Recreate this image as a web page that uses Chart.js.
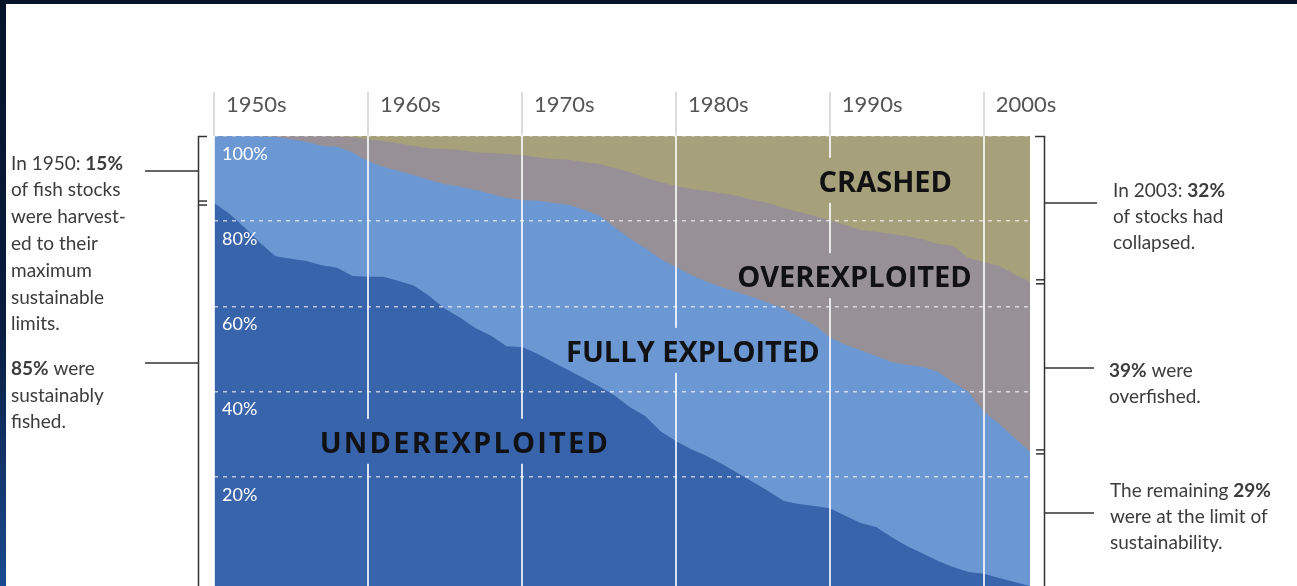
<!DOCTYPE html>
<html><head><meta charset="utf-8">
<script src="https://cdn.jsdelivr.net/npm/chart.js@4.4.1/dist/chart.umd.min.js"></script>
<style>
html,body{margin:0;padding:0;background:#fff;overflow:hidden;}
#wrap{position:relative;width:1297px;height:586px;background:#fff;}
#c{position:absolute;left:0;top:0;}
#frameTop{position:absolute;left:0;top:0;width:1297px;height:4px;background:#06142a;}
#frameLeft{position:absolute;left:0;top:0;width:6px;height:586px;background:linear-gradient(#06142a 0%,#0a1d40 55%,#1a4a90 100%);}
</style></head>
<body><div id="wrap"><canvas id="c" width="1297" height="586"></canvas><div id="frameTop"></div><div id="frameLeft"></div></div>
<script>
const years = [1950,1951,1952,1953,1954,1955,1956,1957,1958,1959,1960,1961,1962,1963,1964,1965,1966,1967,1968,1969,1970,1971,1972,1973,1974,1975,1976,1977,1978,1979,1980,1981,1982,1983,1984,1985,1986,1987,1988,1989,1990,1991,1992,1993,1994,1995,1996,1997,1998,1999,2000,2001,2002,2003];
const underexploited = [85.1,82.7,79.6,76.2,73.3,72.7,72.2,71.3,70.7,68.9, 68.7,68.7,67.8,66.7,64.4,61.6,59.6,57.3,55.6,53.3, 53.1,51.6,49.8,48.0,46.2,44.4,42.4,39.8,37.8,34.4, 32.2,30.4,28.9,27.1,25.1,23.1,21.1,18.9,18.2,17.8, 17.3,15.6,14.0,13.1,10.9,8.9,7.3,5.6,4.2,3.1, 2.7,1.8,0.9,0.0];
const fullyExploited = [14.9,17.3,20.4,23.7,26.5,26.6,26.5,26.5,26.9,27.5, 25.7,24.4,24.4,24.6,25.8,27.7,29.1,30.7,31.5,32.9, 32.7,34.0,35.3,36.7,37.4,38.0,37.4,37.5,37.3,38.3, 38.7,38.7,38.7,39.3,40.2,41.1,41.8,42.7,41.6,40.2, 38.0,38.0,38.4,38.0,38.9,40.2,41.4,42.0,41.1,40.0, 36.0,34.2,32.0,29.8];
const overexploited = [0,0,0,0.1,0.2,0.7,1.3,2.2,2.3,3.3, 4.9,5.8,6.2,6.5,7.1,7.8,8.2,8.4,9.1,9.8, 10.0,9.7,9.8,10.0,10.6,11.4,13.1,14.7,15.6,17.1, 18.0,19.1,20.2,20.9,21.4,21.6,22.2,22.4,23.3,24.2, 26.0,26.6,26.7,27.6,28.4,28.7,28.4,28.4,30.3,29.8, 33.3,35.1,36.4,37.8];
const crashed = [0,0,0,0,0,0,0,0,0.1,0.3, 0.7,1.1,1.6,2.2,2.7,2.9,3.1,3.6,3.8,4.0, 4.2,4.7,5.1,5.3,5.8,6.2,7.1,8.0,9.3,10.2, 11.1,11.8,12.2,12.7,13.3,14.2,14.9,16.0,16.9,17.8, 18.7,19.8,20.9,21.3,21.8,22.2,22.9,24.0,24.4,27.1, 28.0,28.9,30.7,32.4];
const seriesNames = ['UNDEREXPLOITED','FULLY EXPLOITED','OVEREXPLOITED','CRASHED'];
const decadeTicks = [1950,1960,1970,1980,1990,2000];
const decadeLabels = ['1950s','1960s','1970s','1980s','1990s','2000s'];
const percentTicks = [20,40,60,80,100];
const percentLabels = ['20%','40%','60%','80%','100%'];

const seriesColors = ['#3864ab','#6b98d3','#979197','#a6a07b'];
const seriesValues = [underexploited, fullyExploited, overexploited, crashed];

// label anchors in data coordinates (year, percent at baseline)
const bigLabels = [
  {series:3, year:1993.6, value:87.6, spacing:0},
  {series:2, year:1991.6, value:66.4, spacing:0},
  {series:1, year:1981.1, value:49.8, spacing:0},
  {series:0, year:1966.3, value:29.6, spacing:2.2}
];

const sideNotes = [
  {x:11, y:170, parts:[['In 1950: ',0],['15%',1]]},
  {x:11, y:196, parts:[['of fish stocks',0]]},
  {x:11, y:223, parts:[['were harvest-',0]]},
  {x:11, y:250, parts:[['ed to their',0]]},
  {x:11, y:277, parts:[['maximum',0]]},
  {x:11, y:304, parts:[['sustainable',0]]},
  {x:11, y:330, parts:[['limits.',0]]},
  {x:11, y:375, parts:[['85%',1],[' were',0]]},
  {x:11, y:402, parts:[['sustainably',0]]},
  {x:11, y:428, parts:[['fished.',0]]},
  {x:1113, y:197, parts:[['In 2003: ',0],['32%',1]]},
  {x:1113, y:223, parts:[['of stocks had',0]]},
  {x:1113, y:249, parts:[['collapsed.',0]]},
  {x:1109, y:377, parts:[['39%',1],[' were',0]]},
  {x:1109, y:403, parts:[['overfished.',0]]},
  {x:1110, y:497, parts:[['The remaining ',0],['29%',1]]},
  {x:1110, y:523, parts:[['were at the limit of',0]]},
  {x:1110, y:549, parts:[['sustainability.',0]]}
];

const annotPlugin = {
  id:'annot',
  afterDraw(chart){
    const ctx = chart.ctx, xs = chart.scales.x, ys = chart.scales.y;
    ctx.save();
    ctx.font = '700 29px "Open Sans"';
    ctx.textAlign = 'center'; ctx.textBaseline = 'alphabetic';
    bigLabels.forEach(lb => {
      const text = seriesNames[lb.series];
      ctx.letterSpacing = lb.spacing + 'px';
      const cx = xs.getPixelForValue(lb.year), by = ys.getPixelForValue(lb.value);
      const w = ctx.measureText(text).width;
      ctx.fillStyle = seriesColors[lb.series];
      decadeTicks.forEach(d => {
        const px = xs.getPixelForValue(d);
        if (px > cx - w/2 && px < cx + w/2) ctx.fillRect(px-2, by-34, 4, 45);
      });
      ctx.fillStyle = '#111114';
      ctx.fillText(text, cx, by);
    });
    ctx.letterSpacing = '0px';
    ctx.textAlign = 'left';
    ctx.fillStyle = '#3c3c3c';
    sideNotes.forEach(n => {
      let x = n.x;
      n.parts.forEach(([t,b]) => {
        ctx.font = (b ? '700 ' : '400 ') + '19px Lato';
        ctx.fillText(t, x, n.y);
        x += ctx.measureText(t).width;
      });
    });
    ctx.strokeStyle = '#333';
    ctx.lineWidth = 1.5;
    const line = (x1,y1,x2,y2) => { ctx.beginPath(); ctx.moveTo(x1,y1); ctx.lineTo(x2,y2); ctx.stroke(); };
    const top = ys.getPixelForValue(100), bot = 586;
    const lSplit = ys.getPixelForValue(underexploited[0]);
    line(198.5, top, 198.5, bot);
    line(198, top+0.5, 207, top+0.5);
    line(198, lSplit-2, 207, lSplit-2);
    line(198, lSplit+2, 207, lSplit+2);
    line(145, 171, 198, 171);
    line(145, 363, 198, 363);
    const n = years.length - 1;
    const rSplit1 = ys.getPixelForValue(100 - crashed[n]);
    const rSplit2 = ys.getPixelForValue(underexploited[n] + fullyExploited[n]);
    line(1044.5, top, 1044.5, bot);
    line(1035, top+0.5, 1045, top+0.5);
    [rSplit1, rSplit2].forEach(s => { line(1036, s-2, 1045, s-2); line(1036, s+2, 1045, s+2); });
    line(1045, 203, 1097, 203);
    line(1045, 368, 1094, 368);
    line(1045, 513, 1094, 513);
    ctx.restore();
  }
};

const datasets = seriesValues.map((vals, i) => ({
  label: seriesNames[i],
  data: years.map((y, k) => ({x: y, y: vals[k]})),
  backgroundColor: seriesColors[i],
  borderColor: seriesColors[i],
  borderWidth: 0,
  pointRadius: 0,
  fill: 'origin',
  tension: 0,
  yAxisID: 'y'
}));

new Chart(document.getElementById('c'), {
  type: 'line',
  data: {datasets},
  plugins: [annotPlugin],
  options: {
    responsive: false,
    animation: false,
    devicePixelRatio: 1,
    layout: {padding: {left: 0, right: 267, top: 0, bottom: 0}},
    plugins: {legend: {display: false}, tooltip: {enabled: false}},
    scales: {
      x: {
        type: 'linear', position: 'top', min: 1950, max: 2003,
        afterBuildTicks: s => { s.ticks = decadeTicks.map(v => ({value: v})); },
        afterFit: s => { s.height = 136; s.paddingLeft = 0; s.paddingRight = 0; },
        border: {display: false},
        grid: {z: 1, color: 'rgba(255,255,255,0.8)', lineWidth: 2, tickLength: 44, tickColor: '#cfcfcf', tickWidth: 1.5},
        ticks: {z: 1, align: 'start', labelOffset: 12, padding: -26, maxRotation: 0, autoSkip: false,
          color: '#555', font: {family: 'Lato', size: 22},
          callback: (v, i) => decadeLabels[i]}
      },
      y: {
        stacked: true, min: 0, max: 100, display: false
      },
      y2: {
        position: 'left', min: -5.6, max: 100,
        afterBuildTicks: s => { s.ticks = percentTicks.map(v => ({value: v})); },
        afterFit: s => { s.width = 214; s.paddingTop = 0; s.paddingBottom = 0; },
        border: {display: false, dash: [4, 5]},
        grid: {z: 1, color: 'rgba(255,255,255,0.65)', lineWidth: 1.5, drawTicks: false},
        ticks: {z: 1, mirror: true, padding: 8, labelOffset: 18, color: '#ffffff',
          font: {family: 'Lato', size: 18},
          callback: (v, i) => percentLabels[i]}
      }
    }
  }
});
</script>
</body></html>
